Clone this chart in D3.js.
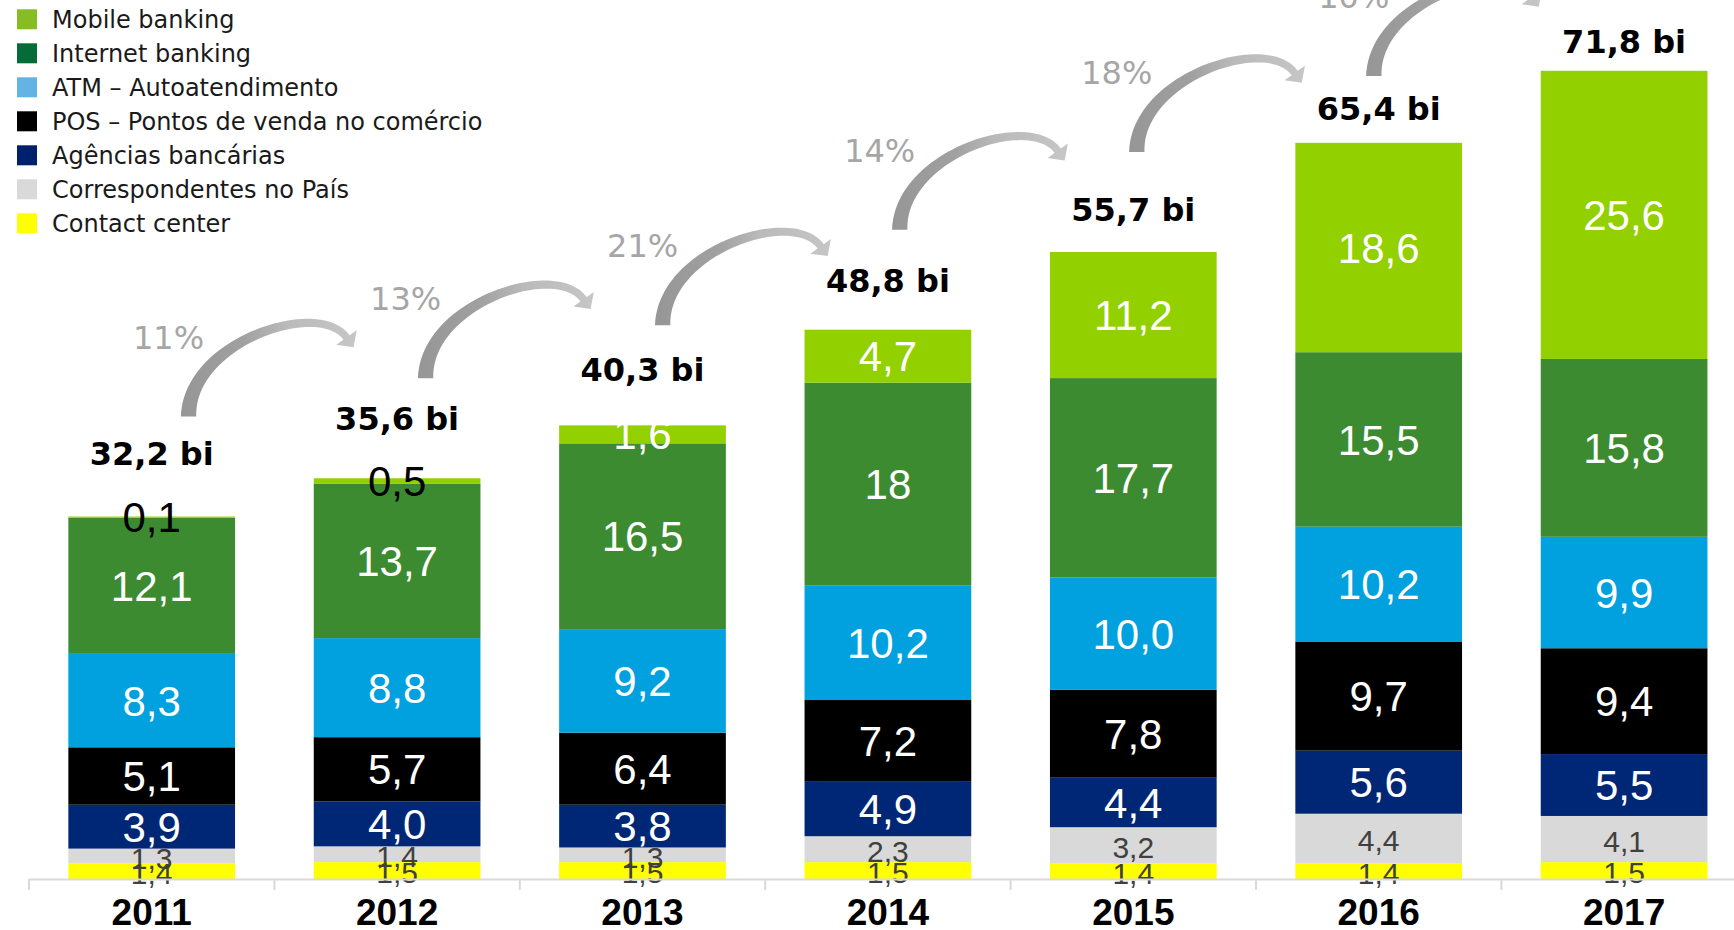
<!DOCTYPE html>
<html>
<head>
<meta charset="utf-8">
<script src="https://cdn.jsdelivr.net/npm/d3@7"></script>
<style>
  html, body { margin: 0; padding: 0; background: #ffffff; }
  svg { display: block; }
</style>
</head>
<body>
<svg id="chart" width="1734" height="930"></svg>
<script>
// ---------------- DATA ----------------
const years = ["2011", "2012", "2013", "2014", "2015", "2016", "2017"];
const mobileBanking   = [0.1, 0.5, 1.6, 4.7, 11.2, 18.6, 25.6];
const internetBanking = [12.1, 13.7, 16.5, 18, 17.7, 15.5, 15.8];
const atm             = [8.3, 8.8, 9.2, 10.2, 10.0, 10.2, 9.9];
const pos             = [5.1, 5.7, 6.4, 7.2, 7.8, 9.7, 9.4];
const agencias        = [3.9, 4.0, 3.8, 4.9, 4.4, 5.6, 5.5];
const correspondentes = [1.3, 1.4, 1.3, 2.3, 3.2, 4.4, 4.1];
const contactCenter   = [1.4, 1.5, 1.5, 1.5, 1.4, 1.4, 1.5];
const totals          = [32.2, 35.6, 40.3, 48.8, 55.7, 65.4, 71.8];
const growthLabels    = ["11%", "13%", "21%", "14%", "18%", "10%"];
const seriesNames = ["Mobile banking", "Internet banking", "ATM – Autoatendimento",
  "POS – Pontos de venda no comércio", "Agências bancárias", "Correspondentes no País", "Contact center"];
// label shown as integer in the source
const labelOverrides = { "Internet banking|2014": "18" };

// ---------------- STYLE ----------------
const barColors = {
  "Mobile banking": "#92d000",
  "Internet banking": "#3d8b31",
  "ATM – Autoatendimento": "#00a1de",
  "POS – Pontos de venda no comércio": "#000000",
  "Agências bancárias": "#002776",
  "Correspondentes no País": "#d9d9d9",
  "Contact center": "#ffff00"
};
const legendColors = {
  "Mobile banking": "#86bc24",
  "Internet banking": "#066c37",
  "ATM – Autoatendimento": "#63b4e4",
  "POS – Pontos de venda no comércio": "#000000",
  "Agências bancárias": "#00206b",
  "Correspondentes no País": "#d9d9d9",
  "Contact center": "#ffff00"
};
const valuesByName = {
  "Mobile banking": mobileBanking,
  "Internet banking": internetBanking,
  "ATM – Autoatendimento": atm,
  "POS – Pontos de venda no comércio": pos,
  "Agências bancárias": agencias,
  "Correspondentes no País": correspondentes,
  "Contact center": contactCenter
};
const smallLabelSeries = new Set(["Correspondentes no País", "Contact center"]);

// ---------------- BUILD ----------------
const svg = d3.select("#chart");
const baseY = 879;

const x = d3.scaleBand().domain(years).range([29, 29 + 7 * 245.4])
  .paddingInner(0.3207).paddingOuter(0.16035);
const y = d3.scaleLinear().domain([0, 78]).range([baseY, 1]);

const table = years.map((yr, i) => {
  const row = { year: yr };
  seriesNames.forEach(n => row[n] = valuesByName[n][i]);
  return row;
});
const stackOrder = seriesNames.slice().reverse(); // bottom -> top
const stacked = d3.stack().keys(stackOrder)(table);

const fmt = v => d3.format(".1f")(v).replace(".", ",");

// bars
const gBars = svg.append("g");
stacked.forEach(layer => {
  gBars.append("g").attr("fill", barColors[layer.key])
    .selectAll("rect").data(layer).join("rect")
    .attr("x", d => x(d.data.year))
    .attr("width", x.bandwidth())
    .attr("y", d => y(d[1]))
    .attr("height", d => y(d[0]) - y(d[1]));
});

// segment labels
const gLabels = svg.append("g").attr("text-anchor", "middle");
stacked.forEach(layer => {
  const small = smallLabelSeries.has(layer.key);
  const fs = small ? 30 : 42;
  gLabels.append("g")
    .style("font-family", "'Liberation Sans', Arial, sans-serif")
    .style("font-size", fs + "px")
    .selectAll("text").data(layer).join("text")
    .attr("x", d => x(d.data.year) + x.bandwidth() / 2)
    .attr("y", d => (y(d[0]) + y(d[1])) / 2 + fs * 0.36 + (small ? 2 : 0))
    .attr("fill", d => {
      const v = d.data[layer.key];
      if (small) return "#404040";
      if (layer.key === "Mobile banking" && v < 1) return "#000000";
      return "#ffffff";
    })
    .text(d => labelOverrides[layer.key + "|" + d.data.year] || fmt(d.data[layer.key]));
});

// totals (label gap narrows as bars get taller, as in the source)
const totalGap = t => 79 - 0.856 * t;
svg.append("g").attr("text-anchor", "middle")
  .style("font-family", "'DejaVu Sans', Verdana, sans-serif")
  .style("font-weight", "bold").style("font-size", "32px")
  .selectAll("text").data(years).join("text")
  .attr("x", d => x(d) + x.bandwidth() / 2)
  .attr("y", (d, i) => y(totals[i]) - totalGap(totals[i]))
  .attr("fill", "#000")
  .text((d, i) => fmt(totals[i]) + " bi");

// axis
const axis = svg.append("g").attr("transform", `translate(0,${baseY})`)
  .call(d3.axisBottom(x).tickSizeInner(0).tickSizeOuter(0).tickPadding(20));
axis.select(".domain").attr("stroke", "#d9d9d9").attr("stroke-width", 2);
axis.selectAll("text")
  .style("font-family", "'Liberation Sans', Arial, sans-serif")
  .style("font-weight", "bold").style("font-size", "37px").attr("fill", "#000");
const gap = (x.step() - x.bandwidth()) / 2;
axis.append("g").selectAll("line").data(years).join("line")
  .attr("x1", d => x(d) - gap).attr("x2", d => x(d) - gap)
  .attr("y1", 0).attr("y2", 11)
  .attr("stroke", "#d9d9d9").attr("stroke-width", 2);

// growth arrows
const defs = svg.append("defs");
const grad = defs.append("linearGradient").attr("id", "arrowGrad")
  .attr("x1", 0).attr("y1", 0).attr("x2", 1).attr("y2", 0);
[[0, "#969696"], [0.35, "#a0a0a0"], [0.6, "#bababa"], [1, "#c6c6c6"]]
  .forEach(([o, c]) => grad.append("stop").attr("offset", o).attr("stop-color", c));

function arrowPath(T) {
  const P0 = [T[0], T[1]], C1 = [T[0], T[1] - 75], C2 = [T[0] + 130, T[1] - 118], P3 = [T[0] + 158, T[1] - 79];
  const bez = t => {
    const u = 1 - t;
    return [u*u*u*P0[0] + 3*u*u*t*C1[0] + 3*u*t*t*C2[0] + t*t*t*P3[0],
            u*u*u*P0[1] + 3*u*u*t*C1[1] + 3*u*t*t*C2[1] + t*t*t*P3[1]];
  };
  const der = t => {
    const u = 1 - t;
    return [3*u*u*(C1[0]-P0[0]) + 6*u*t*(C2[0]-C1[0]) + 3*t*t*(P3[0]-C2[0]),
            3*u*u*(C1[1]-P0[1]) + 6*u*t*(C2[1]-C1[1]) + 3*t*t*(P3[1]-C2[1])];
  };
  const left = [], right = [];
  const N = 48;
  for (let k = 0; k <= N; k++) {
    const t = k / N;
    const p = bez(t), d = der(t);
    const L = Math.hypot(d[0], d[1]);
    const nx = -d[1] / L, ny = d[0] / L;
    const hw = 3.8 + 3.9 * (1 - t) * (1 - t);
    left.push([p[0] + nx * hw, p[1] + ny * hw]);
    right.push([p[0] - nx * hw, p[1] - ny * hw]);
  }
  const dEnd = der(1), Le = Math.hypot(dEnd[0], dEnd[1]);
  const dx = dEnd[0] / Le, dy = dEnd[1] / Le, nx = -dy, ny = dx;
  const head = [
    [P3[0] + nx * 12.5, P3[1] + ny * 12.5],
    [P3[0] + dx * 12, P3[1] + dy * 12],
    [P3[0] - nx * 12.5, P3[1] - ny * 12.5]
  ];
  const pts = left.concat(head, right.reverse());
  return d3.line()(pts) + "Z";
}

const gArrows = svg.append("g");
growthLabels.forEach((lab, i) => {
  const cx = x(years[i]) + x.bandwidth() / 2;
  const T = [0.966 * cx + 42, Math.max(y(totals[i]) - 100, 76)];
  gArrows.append("path").attr("d", arrowPath(T)).attr("fill", "url(#arrowGrad)");
  gArrows.append("text")
    .attr("x", T[0] - 20).attr("y", T[1] - 68)
    .attr("text-anchor", "middle")
    .style("font-family", "'DejaVu Sans', Verdana, sans-serif")
    .style("font-size", "32px").attr("fill", "#a6a6a6")
    .text(lab);
});

// legend
const legend = svg.append("g")
  .style("font-family", "'DejaVu Sans', Verdana, sans-serif")
  .style("font-size", "24px");
const lg = legend.selectAll("g").data(seriesNames).join("g")
  .attr("transform", (d, i) => `translate(17,${9.3 + i * 34})`);
lg.append("rect").attr("width", 20).attr("height", 20).attr("fill", d => legendColors[d]);
lg.append("text").attr("x", 35).attr("y", 19).attr("fill", "#1a1a1a").text(d => d);
</script>
</body>
</html>
